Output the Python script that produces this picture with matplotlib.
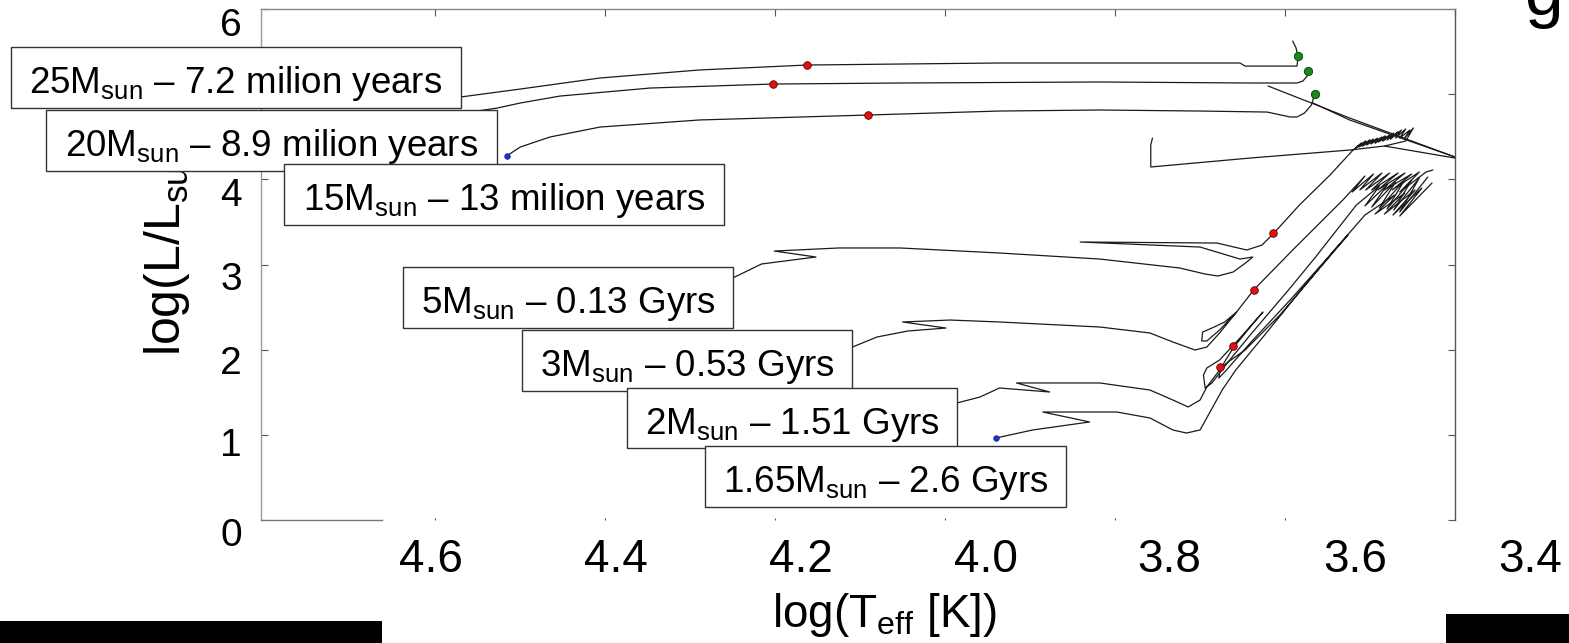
import matplotlib
matplotlib.use('Agg')
import matplotlib.pyplot as plt
from matplotlib.patches import Rectangle

plt.rcParams['font.family'] = ['Liberation Sans', 'DejaVu Sans']
plt.rcParams['mathtext.fontset'] = 'custom'
plt.rcParams['mathtext.rm'] = 'Liberation Sans'
plt.rcParams['mathtext.it'] = 'Liberation Sans:italic'
plt.rcParams['mathtext.bf'] = 'Liberation Sans:bold'

# ---------------- data: evolutionary tracks (log Teff, log L/Lsun) ----------------
t25_logT = [4.594, 4.570, 4.500, 4.406, 4.289, 4.163, 4.053, 3.936, 3.818, 3.653, 3.647, 3.586,
            3.585, 3.585, 3.587, 3.591]
t25_logL = [4.920, 4.967, 5.060, 5.190, 5.284, 5.342, 5.354, 5.366, 5.366, 5.366, 5.330, 5.330,
            5.401, 5.448, 5.542, 5.624]

t20_logT = [4.559, 4.527, 4.500, 4.453, 4.347, 4.203, 4.053, 3.818, 3.641, 3.586, 3.579, 3.574, 3.573]
t20_logL = [4.790, 4.837, 4.896, 4.978, 5.072, 5.119, 5.131, 5.143, 5.131, 5.131, 5.154, 5.213, 5.272]

t15_logT = [4.516, 4.500, 4.465, 4.406, 4.289, 4.091, 3.936, 3.818, 3.700, 3.621, 3.594, 3.586,
            3.577, 3.569, 3.565]
t15_logL = [4.274, 4.379, 4.497, 4.614, 4.697, 4.755, 4.802, 4.814, 4.802, 4.790, 4.732, 4.732,
            4.779, 4.873, 5.002]

# late red-supergiant excursions (run past the right edge of the plot)
late_a_logT = [3.620, 3.524, 3.400, 3.347]
late_a_logL = [5.096, 4.720, 4.262, 4.062]
late_b_logT = [3.567, 3.524, 3.400, 3.347]
late_b_logL = [4.896, 4.697, 4.262, 4.086]
late_c_logT = [3.483, 3.400, 3.347]
late_c_logL = [4.391, 4.250, 4.168]

t5_logT = [4.265, 4.250, 4.216, 4.171, 4.152, 4.201, 4.125, 4.053, 3.936, 3.818, 3.724, 3.694,
           3.679, 3.661, 3.645, 3.638, 3.653, 3.700, 3.841, 3.680, 3.645, 3.627, 3.613, 3.583,
           3.547, 3.520,
           3.510, 3.517, 3.505, 3.513, 3.500, 3.509, 3.496, 3.504, 3.491, 3.499, 3.486, 3.494,
           3.482, 3.490, 3.477, 3.485, 3.472, 3.480, 3.467, 3.476, 3.463, 3.470, 3.458, 3.465,
           3.453, 3.460, 3.449, 3.458, 3.483,
           3.524, 3.641, 3.758, 3.758, 3.756]
t5_logL = [2.783, 2.841, 3.006, 3.064, 3.088, 3.158, 3.194, 3.194, 3.135, 3.064, 2.959, 2.888,
           2.865, 2.912, 3.029, 3.088, 3.064, 3.205, 3.264, 3.252, 3.170, 3.229, 3.370, 3.699,
           4.051, 4.344,
           4.426, 4.368, 4.450, 4.379, 4.462, 4.391, 4.473, 4.403, 4.485, 4.415, 4.497, 4.426,
           4.509, 4.438, 4.520, 4.450, 4.544, 4.462, 4.556, 4.473, 4.579, 4.485, 4.591, 4.485,
           4.579, 4.473, 4.603, 4.450, 4.391,
           4.344, 4.250, 4.145, 4.403, 4.485]

t3_logT = [4.124, 4.109, 4.080, 4.044, 3.999, 4.050, 3.994, 3.936, 3.818, 3.759, 3.732, 3.706,
           3.692, 3.677, 3.657, 3.671, 3.686, 3.697, 3.698, 3.692, 3.677, 3.657, 3.637, 3.591,
           3.532, 3.506, 3.521, 3.496, 3.512, 3.486, 3.505, 3.477, 3.498, 3.467, 3.491, 3.459,
           3.483, 3.451, 3.474, 3.442, 3.465, 3.434, 3.426]
t3_logL = [1.973, 2.031, 2.149, 2.219, 2.254, 2.325, 2.348, 2.325, 2.266, 2.196, 2.090, 1.996,
           2.031, 2.196, 2.442, 2.325, 2.254, 2.207, 2.102, 2.102, 2.231, 2.442, 2.700, 3.170,
           3.757, 4.039, 3.851, 4.062, 3.875, 4.074, 3.875, 4.074, 3.875, 4.074, 3.875, 4.074,
           3.875, 4.062, 3.875, 4.086, 3.851, 4.086, 4.110]

t2_logT = [4.006, 3.986, 3.959, 3.936, 3.877, 3.916, 3.818, 3.759, 3.732, 3.714, 3.700, 3.692,
           3.677, 3.661, 3.641, 3.626, 3.653, 3.677, 3.692, 3.696, 3.694, 3.686, 3.667, 3.641,
           3.594, 3.565, 3.516, 3.489, 3.506, 3.479, 3.498, 3.470, 3.489, 3.460, 3.480, 3.451,
           3.472, 3.442, 3.465, 3.432]
t2_logL = [1.198, 1.374, 1.444, 1.550, 1.503, 1.609, 1.609, 1.526, 1.409, 1.327, 1.409, 1.562,
           1.761, 2.020, 2.266, 2.442, 2.137, 1.879, 1.785, 1.702, 1.550, 1.609, 1.855, 2.172,
           2.724, 3.076, 3.699, 3.922, 3.687, 3.945, 3.675, 3.969, 3.663, 3.980, 3.652, 3.992,
           3.640, 4.016, 3.616, 4.027]

t165_logT = [3.940, 3.897, 3.830, 3.885, 3.798, 3.759, 3.732, 3.716, 3.700, 3.685, 3.674, 3.658,
             3.624, 3.583, 3.542, 3.526, 3.559, 3.606, 3.647, 3.667, 3.676, 3.678, 3.671, 3.641,
             3.594, 3.547, 3.506, 3.471, 3.494, 3.459, 3.483, 3.447, 3.473, 3.439, 3.465, 3.427]
t165_logL = [0.963, 1.057, 1.151, 1.268, 1.268, 1.198, 1.057, 1.021, 1.057, 1.327, 1.526, 1.761,
             2.172, 2.677, 3.170, 3.346, 2.959, 2.407, 1.996, 1.855, 1.785, 1.667, 1.738, 2.078,
             2.583, 3.111, 3.581, 3.816, 3.593, 3.839, 3.593, 3.875, 3.581, 3.898, 3.569, 3.957]

# marked positions
red_logT = [4.163, 4.203, 4.091, 3.614, 3.637, 3.661, 3.676]
red_logL = [5.342, 5.119, 4.755, 3.370, 2.700, 2.043, 1.796]
green_logT = [3.585, 3.573, 3.565]
green_logL = [5.448, 5.272, 5.002]
blue_logT = [4.516, 3.940]
blue_logL = [4.274, 0.963]

# texts
label_texts = ["25M$_\\mathrm{sun}$ – 7.2 milion years",
               "20M$_\\mathrm{sun}$ – 8.9 milion years",
               "15M$_\\mathrm{sun}$ – 13 milion years",
               "5M$_\\mathrm{sun}$ – 0.13 Gyrs",
               "3M$_\\mathrm{sun}$ – 0.53 Gyrs",
               "2M$_\\mathrm{sun}$ – 1.51 Gyrs",
               "1.65M$_\\mathrm{sun}$ – 2.6 Gyrs"]
xtick_vals = [4.6, 4.4, 4.2, 4.0, 3.8, 3.6, 3.4]
xtick_texts = ["4.6", "4.4", "4.2", "4.0", "3.8", "3.6", "3.4"]
ytick_vals = [0, 1, 2, 3, 4, 5, 6]
ytick_texts = ["0", "1", "2", "3", "4", "6"]

# ---------------- layout ----------------
W, H = 1569, 643
fig = plt.figure(figsize=(W / 100, H / 100), dpi=100)


def fx(px):
    return px / W


def fy(py):
    return 1 - py / H


ax = fig.add_axes([fx(261), fy(520), fx(1455) - fx(261), fy(9) - fy(520)])
ax.set_xlim(4.805, 3.4)
ax.set_ylim(0, 6)

line_kw = dict(color='#1a1a1a', lw=0.9, solid_joinstyle='round', solid_capstyle='round')
for T, L in [(t25_logT, t25_logL), (t20_logT, t20_logL), (t15_logT, t15_logL),
             (late_a_logT, late_a_logL), (late_b_logT, late_b_logL), (late_c_logT, late_c_logL),
             (t5_logT, t5_logL), (t3_logT, t3_logL), (t2_logT, t2_logL), (t165_logT, t165_logL)]:
    ax.plot(T, L, **line_kw)

ax.scatter(red_logT, red_logL, s=30, c='#e31010', edgecolors='#600000', linewidths=0.6, zorder=5)
ax.scatter(green_logT, green_logL, s=36, c='#178a17', edgecolors='#0b3d0b', linewidths=0.6, zorder=5)
ax.scatter(blue_logT, blue_logL, s=16, c='#1636d8', edgecolors='#0a1a70', linewidths=0.5, zorder=5)

ax.set_xticks(xtick_vals)
ax.set_yticks(ytick_vals)
ax.tick_params(direction='in', length=5, width=0.8, color='#555555', top=True, right=True,
               labelbottom=False, labelleft=False)
for t in ax.xaxis.get_major_ticks():
    t.tick1line.set_markersize(1.5)

ax.spines['bottom'].set_bounds(4.805, 4.663)
ax.spines['bottom'].set_color('#777777')
ax.spines['left'].set_color('#9a9a9a')
ax.spines['top'].set_color('#888888')
ax.spines['right'].set_color('#555555')
for s in ax.spines.values():
    s.set_linewidth(1.0)

# tick labels (slide text)
xlab_px = [431, 616, 801, 986, 1169, 1355, 1530]
for txt, px in zip(xtick_texts, xlab_px):
    fig.text(fx(px), fy(572), txt, ha='center', va='baseline', fontsize=33, zorder=2)
ylab_py = [546, 456, 374, 290, 206, 36]
for txt, py in zip(ytick_texts, ylab_py):
    fig.text(fx(231), fy(py), txt, ha='center', va='baseline', fontsize=28, zorder=2)

fig.text(fx(885), fy(627), 'log(T$_\\mathrm{eff}$ [K])', ha='center', va='baseline', fontsize=33, zorder=2)
fig.text(fx(167), fy(356), 'log(L/L$_\\mathrm{sun}$)', rotation=90, ha='center', va='bottom',
         fontsize=36, zorder=2)

# label boxes
boxes_px = [(11, 47, 461, 108), (46, 110, 497, 171), (284, 164, 724, 225), (403, 267, 733, 328),
            (522, 330, 852, 391), (627, 388, 957, 448), (705, 446, 1066, 507)]
for i, (txt, (x0, y0, x1, y1)) in enumerate(zip(label_texts, boxes_px)):
    rect = Rectangle((fx(x0), fy(y1)), fx(x1) - fx(x0), fy(y0) - fy(y1), transform=fig.transFigure,
                     facecolor='white', edgecolor='#333333', lw=1.0, zorder=4 + 2 * i)
    fig.add_artist(rect)
    fig.text(fx((x0 + x1) / 2), fy(y0 + 46), txt, ha='center', va='baseline', fontsize=26.5,
             zorder=5 + 2 * i)

# slide remnants
fig.add_artist(Rectangle((0, 0), fx(382), fy(621), transform=fig.transFigure,
                         facecolor='black', edgecolor='none', zorder=30))
fig.add_artist(Rectangle((fx(1446), 0), 1 - fx(1446), fy(614), transform=fig.transFigure,
                         facecolor='black', edgecolor='none', zorder=30))
fig.text(fx(1524), fy(15), 'g', ha='left', va='baseline', fontsize=50, zorder=2)

fig.savefig('out.png', dpi=100)
